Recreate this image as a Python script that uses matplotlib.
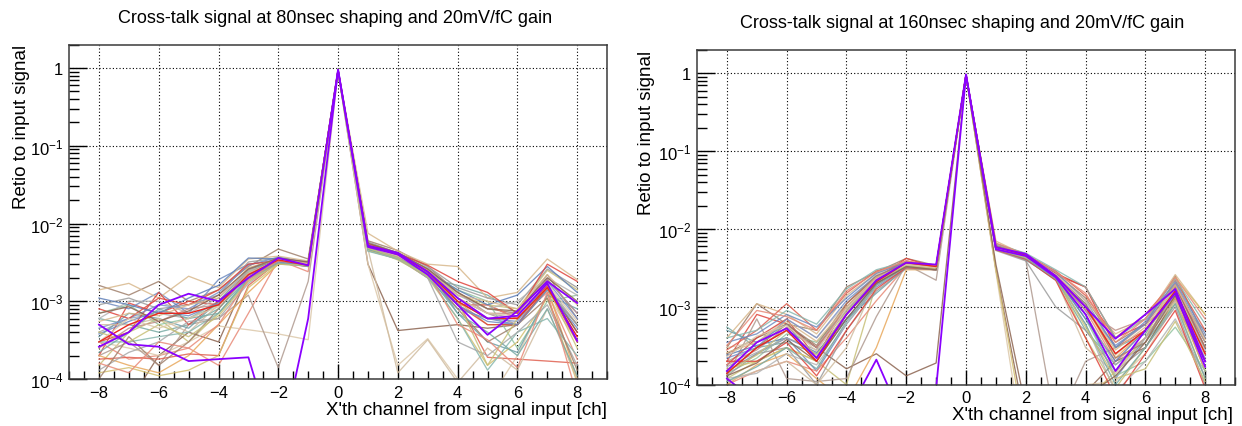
import numpy as np
import matplotlib.pyplot as plt
from matplotlib.ticker import FixedLocator, FuncFormatter, LogLocator, MultipleLocator

plt.rcParams['font.family'] = ['Liberation Sans', 'DejaVu Sans']
plt.rcParams['mathtext.fontset'] = 'custom'
plt.rcParams['mathtext.rm'] = 'Liberation Sans'
plt.rcParams['mathtext.default'] = 'regular'

# Canal relativo a la entrada de senal
channels = np.arange(-8, 9)

titles = ["Cross-talk signal at 80nsec shaping and 20mV/fC gain",
          "Cross-talk signal at 160nsec shaping and 20mV/fC gain"]
xlabel = "X'th channel from signal input [ch]"
ylabel = "Retio to input signal"

# colores de las curvas de fondo
bundle_colors = ['#a8a8a8', '#a0806c', '#e0443c', '#6f8cc0', '#78aaa4', '#d8b88c',
                 '#c8c078', '#e88a78', '#8c6450', '#dcc8aa', '#b09a90', '#e8a85c',
                 '#94c4a0', '#6fa0a8', '#d8443c', '#e06050', '#9c9c9c', '#7890c8',
                 '#d4c070', '#d0bca0', '#b4b4b4', '#c09088', '#88b8b0', '#5f7fb8']

# 80 nsec: filas de -8 a 8
ratio_80 = [
    [4e-4, 6e-4, 7e-4, 6e-4, 1e-3, 2.2e-3, 3.3e-3, 3.0e-3, 0.92, 5e-3, 4e-3, 2.4e-3, 1.1e-3, 7e-4, 6e-4, 1.6e-3, 5e-4],
    [1.6e-3, 1.2e-3, 1.8e-3, 1e-3, 1.4e-3, 2.8e-3, 4.7e-3, 3.5e-3, 0.9, 6e-3, 4.5e-3, 2.8e-3, 1.3e-3, 8e-4, 7e-4, 2.2e-3, 6e-4],
    [2e-4, 9.5e-4, 7e-4, 1e-3, 9e-4, 2.5e-3, 3.6e-3, 3.1e-3, 0.95, 5.5e-3, 4.2e-3, 2.5e-3, 9e-4, 9e-4, 6e-4, 1.6e-3, 4e-4],
    [1e-3, 8e-4, 1.3e-3, 7e-4, 1.9e-3, 3e-3, 3.4e-3, 3.2e-3, 0.93, 5e-3, 3.8e-3, 2.2e-3, 1e-3, 6e-4, 5e-4, 1.9e-3, 7e-4],
    [6e-4, 5e-4, 4e-4, 5e-4, 8e-4, 2e-3, 3e-3, 2.9e-3, 0.9, 4.5e-3, 3.6e-3, 2e-3, 1.6e-3, 1.2e-3, 7e-4, 1.4e-3, 5e-4],
    [1.4e-3, 1.7e-3, 1.1e-3, 2.1e-3, 1.5e-3, 3.5e-3, 3.8e-3, 3.3e-3, 0.94, 7.5e-3, 4.4e-3, 3e-3, 2.8e-3, 1.1e-3, 1.3e-3, 3.5e-3, 1.9e-3],
    [1.5e-4, 4e-4, 6e-4, 3e-4, 7e-4, 1.8e-3, 3.2e-3, 2.8e-3, 0.88, 4.8e-3, 3.4e-3, 2.1e-3, 1.2e-3, 9e-4, 8e-4, 2.5e-3, 1.4e-3],
    [3e-4, 1.8e-4, 2e-4, 2.5e-4, 1.5e-4, 7e-4, 3.4e-3, 2.4e-3, 0.9, 5e-3, 3.8e-3, 2.3e-3, 9e-4, 9e-4, 6e-4, 1.3e-3, 1.8e-4],
    [5e-5, 5e-5, 2e-4, 4e-4, 3e-4, 2.2e-3, 3e-3, 3.1e-3, 0.91, 3e-3, 4.2e-4, 4.6e-4, 5e-4, 4.5e-4, 5e-4, 1.5e-3, 4e-4],
    [3e-4, 2.5e-4, 2e-4, 3e-4, 4.8e-4, 4.3e-4, 3.8e-4, 3.2e-4, 0.9, 3e-3, 1.5e-4, 3.3e-4, 1e-4, 5e-5, 2e-4, 1.2e-3, 3e-4],
    [2e-4, 3e-4, 1.5e-4, 5e-4, 6e-4, 1.2e-3, 1.4e-4, 1.8e-3, 0.88, 4.5e-3, 3.5e-3, 2.3e-3, 1.3e-3, 7e-4, 5e-4, 1.4e-3, 5e-4],
    [2e-4, 1.5e-4, 1.2e-4, 2e-4, 5e-4, 1.3e-3, 3e-3, 3e-3, 0.92, 5e-3, 4e-3, 2.2e-3, 1e-3, 5e-4, 5e-4, 1.5e-3, 1e-4],
    [7e-4, 9e-4, 5e-4, 6e-4, 9e-4, 2.4e-3, 3.5e-3, 3e-3, 0.93, 5.2e-3, 3.9e-3, 2.4e-3, 1.4e-3, 1e-3, 2.5e-4, 1e-3, 1.2e-3],
    [3.5e-4, 7e-4, 6e-4, 4.5e-4, 1e-3, 2.6e-3, 3.3e-3, 2.9e-3, 0.9, 4.6e-3, 3.7e-3, 2.6e-3, 7e-4, 3e-4, 2.2e-4, 1.2e-3, 8e-4],
    [3e-4, 4e-4, 1.3e-3, 5e-4, 1e-3, 2.1e-3, 3.3e-3, 3e-3, 0.93, 5.3e-3, 4.1e-3, 2.3e-3, 9e-4, 5e-4, 5e-4, 1.5e-3, 3e-4],
    [1.8e-4, 1.9e-4, 1.8e-4, 2.1e-4, 2e-4, 1.6e-3, 3.2e-3, 2.8e-3, 0.92, 5e-3, 3.9e-3, 2.5e-3, 1e-3, 1.9e-4, 1.8e-4, 1.7e-4, 1.6e-4],
    [9e-4, 1.1e-3, 8e-4, 9e-4, 1.2e-3, 3.2e-3, 3.6e-3, 3.2e-3, 0.9, 5.8e-3, 4.2e-3, 2.8e-3, 1.5e-3, 1.1e-3, 9e-4, 2.6e-3, 1.5e-3],
    [4.5e-4, 6e-4, 9e-4, 8e-4, 1.3e-3, 2.9e-3, 3.7e-3, 3.1e-3, 0.9, 4.9e-3, 3.6e-3, 2e-3, 8e-4, 6e-4, 5.5e-4, 1.8e-3, 6e-4],
    [1.2e-4, 1.4e-4, 1.1e-4, 1.3e-4, 2e-4, 1.5e-3, 3e-3, 2.9e-3, 0.9, 4.5e-3, 3.5e-3, 2e-3, 6e-4, 1.5e-4, 3e-4, 1.1e-3, 9e-5],
    [5e-4, 5e-4, 6e-4, 4e-4, 9e-4, 2.1e-3, 3.4e-3, 3e-3, 0.91, 4.7e-3, 1.2e-4, 3.2e-4, 9e-5, 2.5e-4, 1.3e-4, 8e-4, 1e-4],
    [6e-4, 1e-3, 1e-3, 7e-4, 1.1e-3, 2.5e-3, 3.1e-3, 2.9e-3, 0.93, 5.1e-3, 3.9e-3, 2.7e-3, 1.2e-3, 8e-4, 1e-3, 2e-3, 1.2e-3],
    [2.5e-4, 4.5e-4, 5.5e-4, 8e-4, 9e-4, 2.3e-3, 3.4e-3, 3.1e-3, 0.94, 5.4e-3, 4e-3, 2.6e-3, 1.1e-3, 7e-4, 7e-4, 1.9e-3, 7e-4],
    [3e-4, 3e-4, 3.5e-4, 4e-4, 7e-4, 1.9e-3, 3.1e-3, 3e-3, 0.9, 4.4e-3, 3.5e-3, 2.1e-3, 6e-4, 1.3e-4, 4e-4, 6e-4, 2e-4],
    [1.1e-3, 9e-4, 7e-4, 1.1e-3, 1.6e-3, 3.6e-3, 3.5e-3, 3.1e-3, 0.91, 5.2e-3, 4e-3, 2.4e-3, 1.4e-3, 9e-4, 1.2e-3, 2.8e-3, 1.3e-3],
    [1.3e-4, 2.2e-4, 3e-4, 5.5e-4, 6e-4, 1.7e-3, 3.2e-3, 3e-3, 0.92, 4.9e-3, 3.7e-3, 2e-3, 3e-4, 2e-4, 4e-4, 9e-4, 1.5e-4],
    [1e-4, 3.5e-4, 1.5e-4, 3e-4, 8e-4, 2.3e-3, 3.5e-3, 3.1e-3, 0.93, 5.1e-3, 3.8e-3, 2.3e-3, 8e-4, 3e-4, 5e-4, 1.1e-3, 1.3e-4],
    [8e-4, 6e-4, 1.1e-3, 9e-4, 1.4e-3, 3e-3, 3.3e-3, 3e-3, 0.92, 5.4e-3, 4.1e-3, 2.9e-3, 1.8e-3, 1.3e-3, 7e-4, 3e-3, 1.8e-3],
    [3.8e-4, 5.5e-4, 7.5e-4, 6.5e-4, 9.5e-4, 2.2e-3, 3.2e-3, 2.9e-3, 0.91, 5e-3, 3.9e-3, 2.3e-3, 9e-4, 5.5e-4, 5e-4, 1.4e-3, 4.5e-4],
    [2.2e-4, 4e-4, 8e-4, 6e-4, 7e-4, 2e-3, 3.1e-3, 2.8e-3, 0.9, 4.7e-3, 3.6e-3, 2.2e-3, 7e-4, 4e-4, 2e-4, 8e-4, 1.1e-4],
    [5.5e-4, 7e-4, 6.5e-4, 9e-4, 1.1e-3, 2.7e-3, 3.5e-3, 3.1e-3, 0.93, 5.3e-3, 4e-3, 2.5e-3, 1.2e-3, 1e-3, 8e-4, 2.2e-3, 9e-4],
    [4e-4, 3e-4, 5e-4, 3.5e-4, 6.5e-4, 1.8e-3, 3e-3, 2.9e-3, 0.91, 4.8e-3, 3.6e-3, 2.1e-3, 1e-3, 1.5e-4, 6e-4, 1.5e-3, 2.5e-4],
    [1.6e-4, 1.2e-4, 3e-4, 2.5e-4, 5e-4, 1.9e-3, 3.3e-3, 3e-3, 0.92, 5e-3, 3.9e-3, 2.4e-3, 5e-4, 3.2e-4, 1.4e-4, 1.3e-3, 6e-5],
    [7e-4, 8.5e-4, 5.5e-4, 7.5e-4, 1.2e-3, 2.6e-3, 3.6e-3, 3.2e-3, 0.94, 5.6e-3, 4.2e-3, 2.6e-3, 1.3e-3, 8e-4, 7.5e-4, 2e-3, 1e-3],
    [3e-4, 6e-4, 4.5e-4, 6e-4, 8.5e-4, 2.3e-3, 3.4e-3, 3e-3, 0.92, 5.1e-3, 3.8e-3, 2.4e-3, 1.1e-3, 7e-4, 6.5e-4, 1.7e-3, 5.5e-4],
]
red_80 = [3e-4, 5e-4, 7e-4, 7e-4, 9e-4, 2.2e-3, 3.4e-3, 2.9e-3, 0.93, 5.2e-3, 4e-3, 2.4e-3, 1e-3, 6e-4, 6e-4, 1.5e-3, 3.5e-4]
purple_80 = [
    [2.6e-4, 4e-4, 9e-4, 1.25e-3, 1e-3, 2e-3, 3.6e-3, 2.9e-3, 0.95, 5.2e-3, 4.2e-3, 2.4e-3, 1.1e-3, 6e-4, 6.5e-4, 1.7e-3, 3.1e-4],
    [5e-4, 2.8e-4, 2.6e-4, 1.7e-4, 1.8e-4, 1.9e-4, 1e-5, 6e-4, 0.95, 5e-3, 4e-3, 2.2e-3, 9e-4, 3.7e-4, 7.5e-4, 1.8e-3, 9.5e-4],
]

# 160 nsec
ratio_160 = [
    [2e-4, 3e-4, 5e-4, 3e-4, 1e-3, 2.3e-3, 3.5e-3, 3.2e-3, 0.95, 5.8e-3, 4.4e-3, 2.5e-3, 1e-3, 2.5e-4, 5e-4, 1.8e-3, 3e-4],
    [3e-4, 1.1e-3, 6e-4, 5e-4, 1.8e-3, 2.8e-3, 4.2e-3, 3.4e-3, 0.93, 6.5e-3, 4.8e-3, 2.7e-3, 1.3e-3, 3.5e-4, 6e-4, 2.5e-3, 4e-4],
    [2e-4, 8e-4, 6e-4, 3e-4, 9e-4, 2.3e-3, 4.2e-3, 3.2e-3, 0.96, 6e-3, 4.5e-3, 2.6e-3, 1.8e-3, 3e-4, 5e-4, 1.6e-3, 2.5e-4],
    [1.5e-4, 2.5e-4, 4e-4, 1.5e-4, 6e-4, 1.8e-3, 3.2e-3, 3e-3, 0.94, 5.5e-3, 4.2e-3, 2.4e-3, 8e-4, 1.2e-4, 4e-4, 1.4e-3, 1.5e-4],
    [5.5e-4, 3e-4, 3.5e-4, 2.5e-4, 8e-4, 2e-3, 3.3e-3, 3e-3, 0.95, 5.6e-3, 4e-3, 2.3e-3, 5e-4, 1.8e-4, 3.5e-4, 1.1e-3, 2e-4],
    [4e-4, 1.1e-3, 8e-4, 4.5e-4, 1.4e-3, 2.7e-3, 3.8e-3, 3.3e-3, 0.95, 7e-3, 4.6e-3, 2.8e-3, 1.2e-3, 4.5e-4, 7e-4, 2.6e-3, 8e-4],
    [1.2e-4, 2e-4, 3e-4, 2e-4, 1e-4, 2e-3, 3.5e-3, 3.1e-3, 0.94, 5.5e-3, 4.3e-3, 2.6e-3, 4e-4, 9e-5, 3e-4, 1.2e-3, 1.2e-4],
    [1e-4, 1.5e-4, 2e-4, 1.5e-4, 4e-4, 1.2e-3, 3.3e-3, 3e-3, 0.95, 5.8e-3, 4.4e-3, 2.4e-3, 9e-4, 2e-4, 4e-4, 1.5e-3, 3e-4],
    [2.5e-4, 4e-4, 6e-4, 3e-4, 1.6e-4, 2.5e-4, 1.3e-4, 1.9e-4, 0.93, 3e-3, 3e-5, 2e-5, 8e-5, 2e-4, 3e-4, 1.3e-3, 2e-4],
    [3e-4, 3.5e-4, 7e-4, 4e-4, 1.1e-3, 2.6e-3, 3.6e-3, 3.1e-3, 0.94, 2.8e-3, 1e-5, 5e-5, 1e-4, 1.1e-4, 2.5e-4, 1.1e-3, 3e-4],
    [1.3e-4, 7e-4, 1.2e-4, 1.1e-4, 1.2e-4, 7.5e-4, 3.5e-3, 2.2e-3, 0.95, 5.5e-3, 4e-3, 3e-5, 2e-4, 3e-4, 6e-4, 1.2e-3, 5e-4],
    [1e-4, 1.8e-4, 2.5e-4, 1.2e-4, 6e-5, 3e-4, 3e-3, 3e-3, 0.94, 5.5e-3, 4.2e-3, 2.4e-3, 1e-3, 2.2e-4, 5e-4, 1.3e-3, 1.5e-4],
    [1.4e-4, 2.2e-4, 4.5e-4, 3.5e-4, 9e-4, 2.4e-3, 3.4e-3, 3.1e-3, 0.95, 5.6e-3, 4.3e-3, 2.5e-3, 7e-4, 1.3e-4, 2e-4, 5.5e-4, 1.5e-4],
    [5e-4, 3.5e-4, 6e-4, 2e-4, 7e-4, 1.5e-3, 3.2e-3, 3e-3, 0.94, 5.4e-3, 4.1e-3, 2.2e-3, 1.1e-3, 3e-4, 4.5e-4, 1.7e-3, 3.5e-4],
    [1.8e-4, 4e-4, 7e-4, 2.2e-4, 1.1e-3, 2.4e-3, 3.9e-3, 3.3e-3, 0.96, 6e-3, 4.5e-3, 2.7e-3, 1.8e-3, 4e-4, 6e-4, 1.9e-3, 3e-4],
    [2.8e-4, 5e-4, 1.1e-3, 5e-4, 1.5e-3, 2.9e-3, 3.7e-3, 3.4e-3, 0.95, 6.2e-3, 4.7e-3, 2.9e-3, 1.4e-3, 4e-4, 8e-4, 2.2e-3, 5e-4],
    [1.3e-4, 2.5e-4, 3e-4, 1e-4, 5e-4, 1.6e-3, 3.1e-3, 3e-3, 0.94, 5.3e-3, 3.9e-3, 1e-3, 5e-4, 1.5e-4, 3e-4, 1e-3, 1e-4],
    [2.2e-4, 3e-4, 7e-4, 4e-4, 1.2e-3, 2.5e-3, 3.6e-3, 3.2e-3, 0.95, 5.9e-3, 4.5e-3, 2.6e-3, 9e-4, 3.2e-4, 6e-4, 2e-3, 4e-4],
    [1.6e-4, 2e-4, 3e-4, 2e-4, 8e-4, 2.2e-3, 3.4e-3, 3.1e-3, 0.94, 3e-3, 2e-5, 3e-5, 6e-5, 1.5e-4, 4e-4, 2.4e-3, 8e-4],
    [1.1e-4, 1.5e-4, 2e-4, 1e-4, 3e-4, 2.2e-3, 3.3e-3, 3e-3, 0.94, 5.4e-3, 4.2e-3, 2.3e-3, 3e-4, 1.4e-4, 4e-4, 1.2e-3, 2.5e-4],
    [1.2e-4, 1.4e-4, 2.5e-4, 1.8e-4, 6e-4, 1.9e-3, 3.2e-3, 3e-3, 0.94, 5.5e-3, 4.1e-3, 2.4e-3, 6e-4, 8e-5, 2e-4, 7e-4, 1.3e-4],
    [1.8e-4, 2.8e-4, 5.5e-4, 3e-4, 1e-3, 2.3e-3, 3.5e-3, 3.2e-3, 0.95, 5.7e-3, 4.4e-3, 2.5e-3, 9e-4, 5e-4, 7e-4, 2e-3, 3.5e-4],
    [4e-4, 5e-4, 9e-4, 6e-4, 1.7e-3, 3e-3, 3.8e-3, 3.3e-3, 0.95, 6.4e-3, 4.9e-3, 3e-3, 1.8e-3, 4e-4, 7e-4, 2.3e-3, 6e-4],
    [2.4e-4, 3.2e-4, 4e-4, 2.6e-4, 7e-4, 2e-3, 3.3e-3, 3.1e-3, 0.94, 5.6e-3, 4.2e-3, 2.4e-3, 7e-4, 2e-4, 5e-4, 1.6e-3, 2.8e-4],
    [1.7e-4, 2.6e-4, 4e-4, 2.8e-4, 9e-4, 2.1e-3, 3.4e-3, 3.1e-3, 0.95, 5.6e-3, 4.3e-3, 2.5e-3, 8e-4, 1.8e-4, 4e-4, 1.5e-3, 2.2e-4],
    [1.4e-4, 3e-4, 6e-4, 3.2e-4, 1.1e-3, 2.5e-3, 3.6e-3, 3.2e-3, 0.95, 5.8e-3, 4.4e-3, 2.6e-3, 1.1e-3, 2.2e-4, 3.5e-4, 1.8e-3, 3e-4],
    [2e-4, 2e-4, 3.5e-4, 1.3e-4, 5e-4, 1.7e-3, 3.2e-3, 3e-3, 0.94, 5.4e-3, 4.1e-3, 2.2e-3, 4e-4, 7e-5, 2.5e-4, 9e-4, 9e-5],
    [3.5e-4, 4.5e-4, 8e-4, 5.5e-4, 1.3e-3, 2.7e-3, 3.7e-3, 3.3e-3, 0.95, 6.1e-3, 4.6e-3, 2.8e-3, 1.2e-3, 3e-4, 6.5e-4, 2.1e-3, 4.5e-4],
    [1.1e-4, 1.7e-4, 3e-4, 1.6e-4, 6.5e-4, 1.9e-3, 3.3e-3, 3e-3, 0.94, 5.5e-3, 4.2e-3, 2.3e-3, 6e-4, 1e-4, 3e-4, 1.1e-3, 1.2e-4],
    [2.6e-4, 3.5e-4, 6.5e-4, 3.6e-4, 1e-3, 2.4e-3, 3.5e-3, 3.2e-3, 0.95, 5.7e-3, 4.4e-3, 2.6e-3, 1e-3, 2.8e-4, 5.5e-4, 1.9e-3, 3.8e-4],
    [1.5e-4, 2.4e-4, 5e-4, 2.4e-4, 8.5e-4, 2.2e-3, 3.4e-3, 3.1e-3, 0.94, 5.6e-3, 4.3e-3, 2.5e-3, 5.5e-4, 1.2e-4, 1.6e-4, 6.5e-4, 1.1e-4],
    [3.2e-4, 9e-4, 7.5e-4, 5e-4, 1.6e-3, 2.8e-3, 3.9e-3, 3.3e-3, 0.95, 6.6e-3, 4.7e-3, 2.8e-3, 1.5e-3, 3.5e-4, 7e-4, 2.4e-3, 7e-4],
    [1.3e-4, 1.9e-4, 3.8e-4, 2e-4, 7e-4, 2e-3, 3.3e-3, 3e-3, 0.94, 3.5e-3, 5e-5, 4e-5, 7e-5, 1.3e-4, 3.5e-4, 1.4e-3, 2e-4],
    [2.3e-4, 4.2e-4, 5.8e-4, 2.7e-4, 9.5e-4, 2.3e-3, 3.5e-3, 3.2e-3, 0.95, 5.8e-3, 4.5e-3, 2.6e-3, 1.2e-3, 2.4e-4, 5e-4, 1.7e-3, 2.7e-4],
]
red_160 = [1.4e-4, 3e-4, 5e-4, 2e-4, 8e-4, 2.1e-3, 3.7e-3, 3.3e-3, 0.96, 5.9e-3, 4.6e-3, 2.5e-3, 1e-3, 2.5e-4, 5e-4, 1.6e-3, 2.5e-4]
purple_160 = [
    [1.5e-4, 3.5e-4, 5.3e-4, 2.2e-4, 8e-4, 2.2e-3, 3.7e-3, 3.5e-3, 0.97, 5.8e-3, 4.8e-3, 2.5e-3, 1e-3, 3.9e-4, 8e-4, 1.7e-3, 2e-4],
    [1.2e-4, 6e-5, 4e-5, 3e-5, 4e-5, 2.1e-4, 2.8e-5, 9e-5, 0.95, 5.5e-3, 4.5e-3, 2.4e-3, 8e-4, 1.5e-4, 5e-4, 1.5e-3, 1.7e-4],
]


def log_label(v, pos):
    if abs(v - 1) < 1e-9:
        return '1'
    return r'$10^{%d}$' % int(round(np.log10(v)))


def draw_panel(ax, rows, red, purples, title, title_xy):
    for i, row in enumerate(rows):
        ax.plot(channels, row, color=bundle_colors[i % len(bundle_colors)], lw=0.95, alpha=0.85)
    ax.plot(channels, red, color='#e8281e', lw=1.0)
    for p in purples:
        ax.plot(channels, p, color='#8a00ff', lw=1.3)

    ax.set_yscale('log')
    ax.set_xlim(-9, 9)
    ax.set_ylim(1e-4, 2.0)

    ax.xaxis.set_major_locator(MultipleLocator(2))
    ax.xaxis.set_minor_locator(MultipleLocator(0.5))
    ax.yaxis.set_major_locator(FixedLocator([1e-4, 1e-3, 1e-2, 1e-1, 1]))
    ax.yaxis.set_minor_locator(LogLocator(base=10, subs=np.arange(2, 10), numticks=20))
    ax.yaxis.set_major_formatter(FuncFormatter(log_label))
    ax.yaxis.set_minor_formatter(FuncFormatter(lambda v, p: ''))

    ax.tick_params(axis='x', which='major', direction='in', length=11, width=1.0,
                   labelsize=12, pad=4, top=False)
    ax.tick_params(axis='x', which='minor', direction='in', length=5.5, width=1.0, top=False)
    ax.tick_params(axis='y', which='major', direction='in', length=13, width=1.0,
                   labelsize=12, pad=4, right=False)
    ax.tick_params(axis='y', which='minor', direction='in', length=7, width=1.0, right=False)

    ax.grid(True, which='major', color='black', linestyle=(0, (1, 2)), linewidth=0.8)
    for s in ax.spines.values():
        s.set_color('#3a3a3a')
        s.set_linewidth(1.1)

    fig.text(title_xy[0], title_xy[1], title, ha='center', va='center', fontsize=13)


fig = plt.figure(figsize=(12.42, 4.27), dpi=100)
ax1 = fig.add_axes([0.0556, 0.1101, 0.4332, 0.7829])
ax2 = fig.add_axes([0.5612, 0.0967, 0.4332, 0.7839])

draw_panel(ax1, ratio_80, red_80, purple_80, titles[0], (0.2697, 0.957))
draw_panel(ax2, ratio_160, red_160, purple_160, titles[1], (0.775, 0.945))

# etiquetas de ejes estilo ROOT
fig.text(0.0177, 0.8946, ylabel, rotation=90, ha='center', va='top', fontsize=13.5)
fig.text(0.5209, 0.8806, ylabel, rotation=90, ha='center', va='top', fontsize=13.5)
fig.text(0.4887, 0.0398, xlabel, ha='right', va='center', fontsize=13.5)
fig.text(0.9928, 0.0281, xlabel, ha='right', va='center', fontsize=13.5)

fig.savefig('out.png', dpi=100)
